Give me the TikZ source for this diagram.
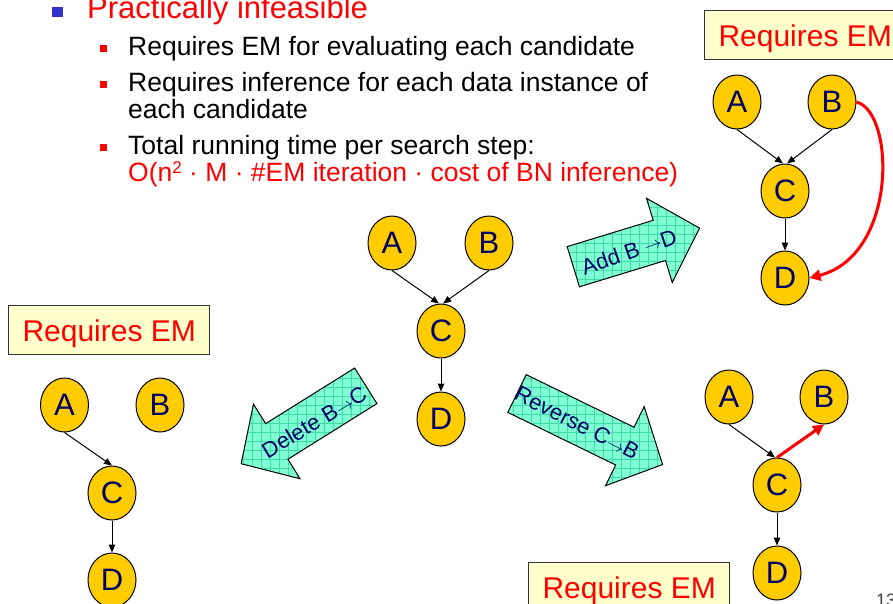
\documentclass[tikz,border=0pt]{standalone}
\usepackage{fontspec}
\setmainfont{Liberation Sans}
\usetikzlibrary{shapes.geometric,arrows.meta}
\definecolor{gold}{HTML}{FFCC00}
\definecolor{navy}{HTML}{000066}
\definecolor{aqua}{HTML}{80FFD4}
\definecolor{aquagrid}{HTML}{40DCA8}
\definecolor{paleyellow}{HTML}{FFFFCC}
\definecolor{bulletblue}{HTML}{3333CC}
\newcommand{\blockarrow}[5]{%
  \begin{scope}[shift={(#2,#3)},rotate=#4]
    \coordinate (#1a) at (0,21);
    \coordinate (#1b) at (#5-42,21);
    \coordinate (#1c) at (#5-42,44);
    \coordinate (#1d) at (#5,0);
    \coordinate (#1e) at (#5-42,-44);
    \coordinate (#1f) at (#5-42,-21);
    \coordinate (#1g) at (0,-21);
  \end{scope}
  \fill[aqua] (#1a)--(#1b)--(#1c)--(#1d)--(#1e)--(#1f)--(#1g)--cycle;
  \begin{scope}
    \clip (#1a)--(#1b)--(#1c)--(#1d)--(#1e)--(#1f)--(#1g)--cycle;
    \draw[aquagrid, line width=0.6pt, step=9pt] (#2-180,#3+180) grid (#2+180,#3-180);
  \end{scope}
  \draw[line width=1pt, line join=miter] (#1a)--(#1b)--(#1c)--(#1d)--(#1e)--(#1f)--(#1g)--cycle;
}
\newcommand{\smallarr}{{\fontsize{17pt}{17pt}\selectfont$\rightarrow$}}
\begin{document}
\begin{tikzpicture}[x=1pt,y=-1pt,
  vn/.style={ellipse, draw=black, line width=1pt, fill=gold, minimum width=48pt, minimum height=54pt, inner sep=0pt, text=navy, font=\fontsize{31pt}{31pt}\selectfont},
  edge/.style={line width=1pt, -{Triangle[length=8pt,width=6.5pt]}},
  redge/.style={draw=red, line width=3pt, -{Triangle[length=11pt,width=11pt]}},
  embox/.style={draw=black!80, line width=1pt, fill=paleyellow, text=red, font=\fontsize{30pt}{30pt}\selectfont, minimum height=49pt, inner xsep=14pt, text height=22pt, text depth=0pt},
  bodytext/.style={anchor=base west, inner sep=0pt, font=\fontsize{26.5pt}{27pt}\selectfont},
  arrtext/.style={text=navy, inner sep=0pt, font=\fontsize{22pt}{22pt}\selectfont}
]
\useasboundingbox (0,0) rectangle (893,603);

% bullet text
\fill[bulletblue] (52,7) rectangle (63,17);
\node[bodytext, text=red, font=\fontsize{31pt}{31pt}\selectfont] (pi) at (87,18) {Practically infeasible};
\fill[red] (100,45) rectangle (107,52);
\node[bodytext] (l1) at (128,55) {Requires EM for evaluating each candidate};
\fill[red] (100,81) rectangle (107,88);
\node[bodytext] (l2) at (128,91) {Requires inference for each data instance of};
\node[bodytext] (l3) at (128,118) {each candidate};
\fill[red] (100,144) rectangle (107,151);
\node[bodytext] (l4) at (128,154) {Total running time per search step:};
\node[bodytext, text=red] (l5) at (128,181) {O(n\raisebox{8pt}{\fontsize{17pt}{17pt}\selectfont 2} · M · \#EM iteration · cost of BN inference)};

% block arrows
\blockarrow{add}{573.3}{266.7}{17}{132}
\blockarrow{del}{365.8}{385.8}{212}{147}
\blockarrow{rev}{517}{393.5}{-26}{162}
\node[arrtext, rotate=19] (addlbl) at (629,252) {Add B \raisebox{2pt}{\smallarr}D};
\node[arrtext, rotate=31] (dellbl) at (314,422) {Delete B\smallarr C};
\node[arrtext, rotate=-27] (revlbl) at (577,423) {Reverse C\smallarr B};

% centre graph
\node[vn] (A0) at (392,243) {A};
\node[vn] (B0) at (489,243) {B};
\node[vn] (C0) at (441,331) {C};
\node[vn] (D0) at (441,419) {D};
\draw[edge] (A0.south) -- ([xshift=-2pt]C0.north);
\draw[edge] (B0.south) -- ([xshift=2pt]C0.north);
\draw[edge] (C0.south) -- (D0.north);

% top-right graph
\node[embox, anchor=north west] (em1) at (704,10) {Requires EM};
\node[vn] (A1) at (737,102) {A};
\node[vn] (B1) at (832,102) {B};
\node[vn] (C1) at (785,191) {C};
\node[vn] (D1) at (785,278) {D};
\draw[edge] (A1.south) -- ([xshift=-2pt]C1.north);
\draw[edge] (B1.south) -- ([xshift=2pt]C1.north);
\draw[edge] (C1.south) -- (D1.north);
\draw[redge] (B1.east) .. controls (895,112) and (898,255) .. (D1.east);

% bottom-left graph
\node[embox, anchor=north west] (em2) at (8,305) {Requires EM};
\node[vn] (A2) at (64.5,405) {A};
\node[vn] (B2) at (160,405) {B};
\node[vn] (C2) at (112,493) {C};
\node[vn] (D2) at (112,580) {D};
\draw[edge] (A2.south) -- (C2.north);
\draw[edge] (C2.south) -- (D2.north);

% bottom-right graph
\node[embox, anchor=north west] (em3) at (528,562) {Requires EM};
\node[vn] (A3) at (729,397) {A};
\node[vn] (B3) at (824,397) {B};
\node[vn] (C3) at (777,485) {C};
\node[vn] (D3) at (777,573) {D};
\draw[edge] (A3.south) -- ([xshift=-2pt]C3.north);
\draw[redge] (C3.north) -- (B3.south);
\draw[edge] (C3.south) -- (D3.north);

\node[anchor=north west, inner sep=0pt, text=black!75, font=\fontsize{18pt}{18pt}\selectfont] (pg) at (876,594) {13};
\end{tikzpicture}
\end{document}
